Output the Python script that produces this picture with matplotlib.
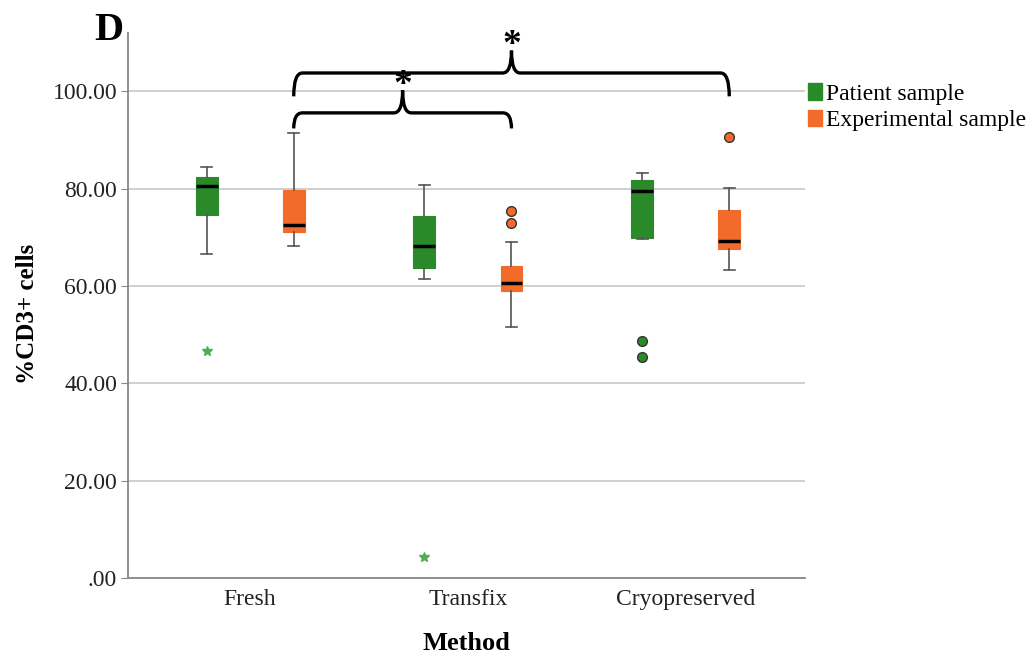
import matplotlib.pyplot as plt
from matplotlib.path import Path
from matplotlib.patches import PathPatch, Patch

plt.rcParams['font.family'] = ['Liberation Serif', 'DejaVu Serif']

# data
methods = ['Fresh', 'Transfix', 'Cryopreserved']
groups = ['Patient sample', 'Experimental sample']
colors = ['#2a8a2a', '#f26b2a']

pat_q1 = [74.7, 63.7, 69.8]
pat_med = [80.5, 68.3, 79.6]
pat_q3 = [82.4, 74.5, 81.9]
pat_lo = [66.6, 61.5, 69.6]
pat_hi = [84.4, 80.7, 83.3]
pat_out = [[], [], [48.8, 45.5]]
pat_extreme = [[46.6], [4.3], []]

exp_q1 = [71.2, 58.9, 67.7]
exp_med = [72.6, 60.6, 69.2]
exp_q3 = [79.8, 64.1, 75.6]
exp_lo = [68.3, 51.6, 63.2]
exp_hi = [91.5, 69.1, 80.2]
exp_out = [[], [75.5, 73.0], [90.7]]
exp_extreme = [[], [], []]

# significance brackets: (from method idx, to method idx) on experimental boxes
brackets = [(0, 1), (0, 2)]
bracket_y = [95.6, 103.8]

fig = plt.figure(figsize=(10.34, 6.62), dpi=100)
ax = fig.add_axes([0.124, 0.127, 0.655, 0.823])

offset = 0.2
width = 0.1
series = [
    (pat_q1, pat_med, pat_q3, pat_lo, pat_hi, pat_out, pat_extreme),
    (exp_q1, exp_med, exp_q3, exp_lo, exp_hi, exp_out, exp_extreme),
]

for gi, (q1, med, q3, lo, hi, out, ext) in enumerate(series):
    stats = []
    for i in range(len(methods)):
        stats.append(dict(q1=q1[i], med=med[i], q3=q3[i], whislo=lo[i], whishi=hi[i], fliers=out[i]))
    pos = [i + (2 * gi - 1) * offset for i in range(len(methods))]
    ax.bxp(stats, positions=pos, widths=width, patch_artist=True, showfliers=True,
           boxprops=dict(facecolor=colors[gi], edgecolor=colors[gi], linewidth=0.8),
           medianprops=dict(color='black', linewidth=2.5),
           whiskerprops=dict(color='#555555', linewidth=1.2),
           capprops=dict(color='#555555', linewidth=1.2),
           capwidths=width * 0.5,
           flierprops=dict(marker='o', markerfacecolor=colors[gi], markeredgecolor='#333333',
                           markersize=7, markeredgewidth=1),
           zorder=3)
    for i in range(len(methods)):
        if ext[i]:
            ax.plot([pos[i]] * len(ext[i]), ext[i], linestyle='none', marker='*',
                    color='#4caf50', markersize=7, zorder=3)


def brace(x0, x1, y, leg):
    r = 0.04
    tip = 4.6
    xm = (x0 + x1) / 2
    verts = [(x0, y - leg), (x0, y), (x0 + r, y),
             (xm - r, y), (xm, y), (xm, y + tip),
             (xm, y), (xm + r, y),
             (x1 - r, y), (x1, y), (x1, y - leg)]
    codes = [Path.MOVETO, Path.CURVE3, Path.CURVE3,
             Path.LINETO, Path.CURVE3, Path.CURVE3,
             Path.CURVE3, Path.CURVE3,
             Path.LINETO, Path.CURVE3, Path.CURVE3]
    ax.add_patch(PathPatch(Path(verts, codes), facecolor='none', edgecolor='black',
                           linewidth=2.4, clip_on=False, zorder=4))
    ax.text(xm, y + tip - 0.9, '*', ha='center', va='baseline', fontsize=27,
            fontweight='bold', clip_on=False)


for (a, b), yb, leg in zip(brackets, bracket_y, [3.2, 4.8]):
    brace(a + offset, b + offset, yb, leg)

ax.set_xlim(-0.56, 2.55)
ax.set_ylim(0, 112)
ax.set_yticks([0, 20, 40, 60, 80, 100])
ax.set_yticklabels(['.00', '20.00', '40.00', '60.00', '80.00', '100.00'])
ax.set_xticks(range(len(methods)))
ax.set_xticklabels(methods)
ax.tick_params(axis='both', labelsize=17, length=0, pad=8, colors='#222222')
ax.tick_params(axis='y', length=5, color='#888888', pad=3)
ax.grid(axis='y', color='#cccccc', linewidth=1.3, zorder=0)
ax.set_axisbelow(True)
for s in ['top', 'right']:
    ax.spines[s].set_visible(False)
for s in ['left', 'bottom']:
    ax.spines[s].set_color('#888888')
    ax.spines[s].set_linewidth(1.3)

ax.set_xlabel('Method', fontsize=19, fontweight='bold', labelpad=16)
ax.set_ylabel('%CD3+ cells', fontsize=18, fontweight='bold')
ax.yaxis.set_label_coords(-0.131, 0.484)

fig.text(0.091, 0.94, 'D', fontsize=29, fontweight='bold')

handles = [Patch(facecolor=c, edgecolor=c) for c in colors]
fig.legend(handles, groups, loc='upper left', bbox_to_anchor=(0.781, 0.874), frameon=False,
           fontsize=17, handlelength=0.62, handleheight=0.7, handletextpad=0.15, labelspacing=0.2,
           borderaxespad=0, borderpad=0)

fig.savefig('out.png', dpi=100)
